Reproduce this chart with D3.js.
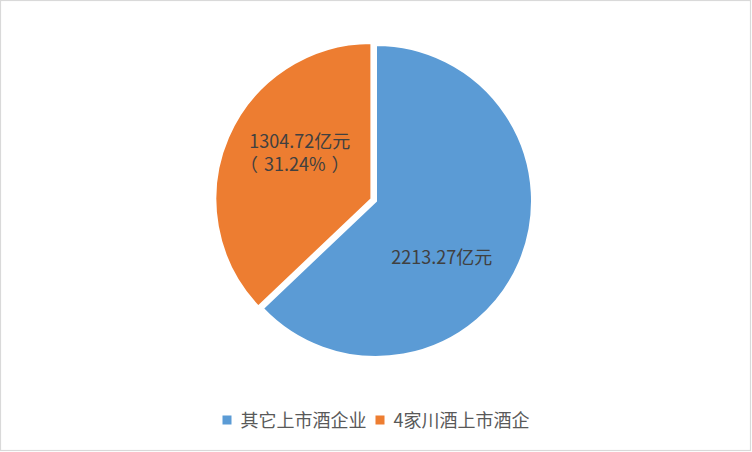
<!DOCTYPE html>
<html>
<head>
<meta charset="utf-8">
<script src="https://cdn.jsdelivr.net/npm/d3@7"></script>
<style>
  body { margin: 0; background: #fff; }
  text { font-family: "Noto Sans CJK SC", "Noto Sans", sans-serif; }
</style>
</head>
<body>
<div id="chart"></div>
<script>
// data
var categories = ["其它上市酒企业", "4家川酒上市酒企"];
var values = [2213.27, 1304.72];
var labelLines = [["2213.27亿元"], ["1304.72亿元", "（31.24%）"]];
var colors = ["#5B9BD5", "#ED7D31"];

var width = 752, height = 452;
var cx = 376, cy = 201, radius = 156;
var explode = [0, 5];      // orange slice pulled out a bit
var labelNudge = [[-6, 26], [0, -15]];

var svg = d3.select("#chart").append("svg")
    .attr("width", width)
    .attr("height", height);

svg.append("rect")
    .attr("x", 0.5).attr("y", 0.5)
    .attr("width", 750).attr("height", 450)
    .attr("fill", "#fff")
    .attr("stroke", "#d9d9d9")
    .attr("stroke-width", 1.2);

var pie = d3.pie().sort(null).value(function(d) { return d; });
var arcs = pie(values);

var arc = d3.arc().innerRadius(0).outerRadius(radius);

var g = svg.append("g")
    .attr("transform", "translate(" + cx + "," + cy + ")");

function offset(d, i, dist) {
  var a = (d.startAngle + d.endAngle) / 2;
  return [Math.sin(a) * dist, -Math.cos(a) * dist];
}

g.selectAll("path.slice").data(arcs).enter().append("path")
    .attr("class", "slice")
    .attr("d", arc)
    .attr("transform", function(d, i) {
      var o = offset(d, i, explode[i]);
      return "translate(" + o[0] + "," + o[1] + ")";
    })
    .attr("fill", function(d, i) { return colors[i]; })
    .attr("stroke", "#fff")
    .attr("stroke-width", 2)
    .attr("stroke-linejoin", "miter");

// data labels
var lineH = 23.5;
g.selectAll("text.lbl").data(arcs).enter().append("text")
    .attr("class", "lbl")
    .attr("text-anchor", "middle")
    .attr("fill", "#404040")
    .style("font-size", "18px")
    .each(function(d, i) {
      var c = arc.centroid(d);
      var o = offset(d, i, explode[i]);
      var x = c[0] + o[0] + labelNudge[i][0];
      var y = c[1] + o[1] + labelNudge[i][1];
      var lines = labelLines[i];
      var y0 = y - (lines.length - 1) * lineH / 2 + 6;
      var t = d3.select(this);
      lines.forEach(function(s, k) {
        var line = t.append("tspan").attr("x", x).attr("y", y0 + k * lineH);
        // brackets drawn with some air around them, like the original
        var prev = null;
        s.split(/([（）])/).filter(function(p) { return p; }).forEach(function(p) {
          var dx = null;
          if (p === "（") dx = -5;
          else if (p === "）") dx = 6;
          else if (prev === "（") dx = 6;
          line.append("tspan").attr("dx", dx).text(p);
          prev = p;
        });
      });
    });

// legend
var legend = svg.append("g");
var lx = 0, box = 9, gap = 9, itemGap = 9;
categories.forEach(function(c, i) {
  var item = legend.append("g").attr("transform", "translate(" + lx + ",0)");
  item.append("rect")
      .attr("x", 0).attr("y", 415.5)
      .attr("width", box).attr("height", box)
      .attr("fill", colors[i]);
  var t = item.append("text")
      .attr("x", box + gap).attr("y", 426.5)
      .attr("fill", "#595959")
      .style("font-size", "18px")
      .text(c);
  lx += box + gap + t.node().getComputedTextLength() + itemGap;
});
lx -= itemGap;
legend.attr("transform", "translate(" + (cx - lx / 2) + ",0)");
</script>
</body>
</html>
